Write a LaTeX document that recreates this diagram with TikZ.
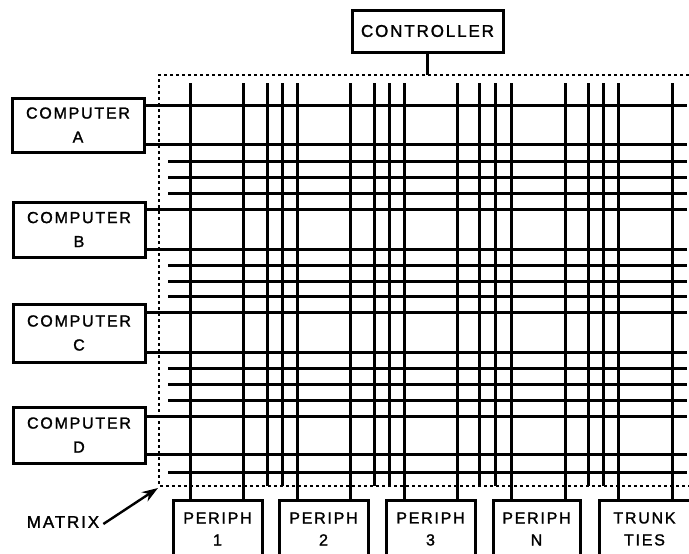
\documentclass[tikz,border=0pt]{standalone}
\usepackage{fontspec}
\setmainfont{Liberation Sans}[LetterSpace=11,FakeBold=1.5]
\usetikzlibrary{arrows.meta}
\tikzset{
  box/.style={draw, line width=3pt, inner sep=0pt, align=center, fill=white,
              font=\fontsize{16}{24}\selectfont},
  pbox/.style={box, font=\fontsize{16}{22}\selectfont},
  wire/.style={line width=3pt},
  frame/.style={line width=2.8pt, dash pattern=on 3.4pt off 2.6pt},
  lbl/.style={font=\fontsize{17}{20}\selectfont, inner sep=0pt},
}
\begin{document}
\begin{tikzpicture}[x=1pt,y=-1pt]
\useasboundingbox (0,0) rectangle (689,554);
\clip (0,0) rectangle (689,554);
\fill[white] (0,0) rectangle (689,554);

% controller
\node[box, minimum width=151pt, minimum height=42pt, font=\fontsize{17}{20}\selectfont] (ctrl) at (427.5,31) {CONTROLLER};

% computers
\node[box, minimum width=132pt, minimum height=54pt] (compA) at (78,125) {COMPUTER\\A};
\node[box, minimum width=132pt, minimum height=55pt] (compB) at (79,229.5) {COMPUTER\\B};
\node[box, minimum width=132pt, minimum height=58pt] (compC) at (79,333) {COMPUTER\\C};
\node[box, minimum width=132pt, minimum height=56pt] (compD) at (79,435) {COMPUTER\\D};

% peripherals
\node[pbox, minimum width=89pt, minimum height=58pt] (p1) at (217.5,529) {PERIPH\\1};
\node[pbox, minimum width=89pt, minimum height=58pt] (p2) at (323.5,529) {PERIPH\\2};
\node[pbox, minimum width=89pt, minimum height=58pt] (p3) at (430.5,529) {PERIPH\\3};
\node[pbox, minimum width=87pt, minimum height=58pt] (pN) at (536.5,529) {PERIPH\\N};
\node[pbox, minimum width=91pt, minimum height=58pt] (pT) at (644.5,529) {TRUNK\\TIES};

% right edge reference
\coordinate (R) at (687,0);

% matrix frame
\draw[frame] (689,75) -- (159,75) -- (159,486) -- (689,486);

% controller stem
\draw[line width=3pt] (ctrl.south) -- (ctrl.south |- 0,75);

% long horizontal lines from computers
\draw[wire] (compA.east |- 0,105) -- (R |- 0,105);
\draw[wire] (compA.east |- 0,144) -- (R |- 0,144);
\draw[wire] (compB.east |- 0,209) -- (R |- 0,209);
\draw[wire] (compB.east |- 0,249) -- (R |- 0,249);
\draw[wire] (compC.east |- 0,312) -- (R |- 0,312);
\draw[wire] (compC.east |- 0,352) -- (R |- 0,352);
\draw[wire] (compD.east |- 0,416) -- (R |- 0,416);
\draw[wire] (compD.east |- 0,454) -- (R |- 0,454);

% short horizontal lines
\foreach \yy in {161,177,193,265,281,296,368,384,400,472}
  \draw[wire] (168,\yy) -- (R |- 0,\yy);

% vertical lines into peripherals
\foreach \xx/\pp in {190/p1,243/p1,297/p2,350/p2,404/p3,457/p3,511/pN,565/pN,618/pT,672/pT}
  \draw[wire] (\xx,83) -- (\xx,0 |- \pp.north);

% short vertical lines ending at the frame
\foreach \xx in {267,282,374,389,479,495,588,603}
  \draw[wire] (\xx,83) -- (\xx,486);

% matrix label
\node[lbl] (mx) at (63,522) {MATRIX};
\coordinate (mxtip) at (158,488);
\draw[line width=2.4pt, -{Stealth[length=16pt,width=11pt]}] ([xshift=4pt,yshift=-2pt]mx.east) -- (mxtip);
\end{tikzpicture}
\end{document}
